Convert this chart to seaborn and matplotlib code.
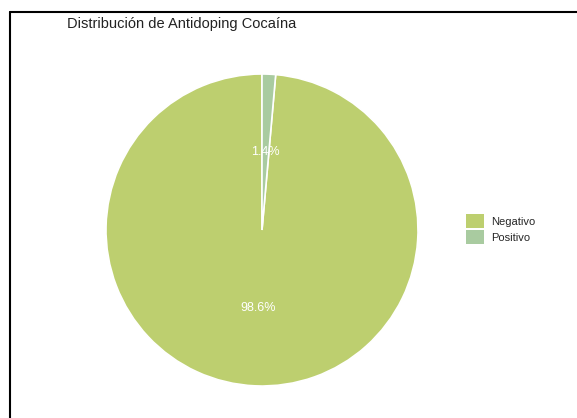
import matplotlib
matplotlib.use("Agg")
import matplotlib.pyplot as plt
import seaborn as sns
from matplotlib.patches import Patch
from matplotlib.lines import Line2D

sns.set_style("white")
plt.rcParams['font.family'] = ['Liberation Sans', 'DejaVu Sans']

categories = ["Negativo", "Positivo"]
values = [98.6, 1.4]
colors = ["#BDCF6F", "#A9CBA0"]

R = 156
cx, cy = 262, 230
fig = plt.figure(figsize=(5.77, 4.18), dpi=100)
ax = fig.add_axes([(cx - R) / 577, 1 - (cy + R) / 418, 2 * R / 577, 2 * R / 418])
wedges, texts, autotexts = ax.pie(
    values, colors=colors, startangle=90, counterclock=True,
    autopct="%1.1f%%", pctdistance=0.5,
    wedgeprops=dict(edgecolor="white", linewidth=1.2),
    textprops=dict(color="white", fontsize=9),
)
ax.set_aspect("equal")
ax.set_xlim(-1, 1)
ax.set_ylim(-1, 1)

fig.text(67 / 577, 1 - 24 / 418, "Distribución de Antidoping Cocaína",
         fontsize=10.5, color="#222222", va="center", ha="left")

handles = [Patch(facecolor=c, edgecolor="none", label=l) for c, l in zip(colors, categories)]
fig.legend(handles=handles, loc="center left", bbox_to_anchor=(456 / 577, 1 - 229 / 418),
           frameon=False, fontsize=8, handlelength=1.6, handleheight=1.6,
           handletextpad=0.7, labelspacing=0.15)

# screenshot frame lines
fig.add_artist(Line2D([9.5 / 577, 9.5 / 577], [0, 1 - 11.5 / 418], color="black", lw=1.5,
                      transform=fig.transFigure))
fig.add_artist(Line2D([9.5 / 577, 1], [1 - 11.5 / 418, 1 - 11.5 / 418], color="black", lw=1.5,
                      transform=fig.transFigure))

fig.savefig("out.png", dpi=100)
